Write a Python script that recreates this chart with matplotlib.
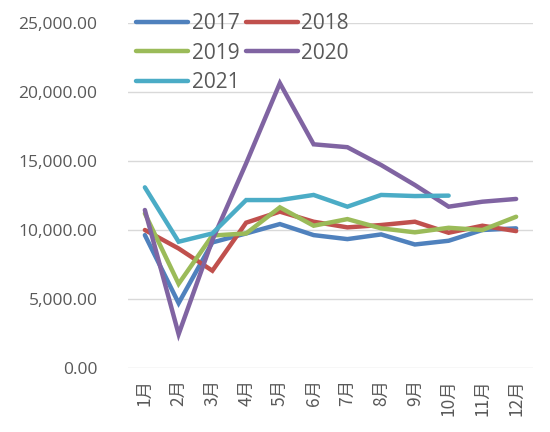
import matplotlib
matplotlib.use("Agg")
import matplotlib.pyplot as plt
from matplotlib.ticker import FuncFormatter

plt.rcParams["font.family"] = ["Open Sans", "Noto Sans CJK SC", "DejaVu Sans"]

months = ["1月", "2月", "3月", "4月", "5月", "6月", "7月", "8月", "9月", "10月", "11月", "12月"]

v2017 = [9630, 4700, 9100, 9750, 10430, 9630, 9340, 9680, 8950, 9220, 10000, 10120]
v2018 = [10000, 8660, 7050, 10530, 11330, 10600, 10190, 10360, 10600, 9800, 10310, 9920]
v2019 = [11200, 6100, 9600, 9750, 11640, 10310, 10790, 10120, 9830, 10160, 10000, 10960]
v2020 = [11450, 2450, 9270, 14830, 20640, 16210, 16000, 14710, 13260, 11690, 12050, 12250]
v2021 = [13090, 9150, 9750, 12170, 12170, 12540, 11690, 12540, 12460, 12490]

series = [
    ("2017", v2017, "#4F81BD"),
    ("2018", v2018, "#C0504D"),
    ("2019", v2019, "#9BBB59"),
    ("2020", v2020, "#8064A2"),
    ("2021", v2021, "#4BACC6"),
]

TEXT = "#595959"
GRID = "#D9D9D9"

fig = plt.figure(figsize=(5.5, 4.32), dpi=100)
ax = fig.add_axes([128 / 550, 64 / 432, 405 / 550, 345 / 432])

x = list(range(len(months)))
handles = {}
for name, vals, color in series:
    line, = ax.plot(x[:len(vals)], vals, color=color, lw=3.2, label=name,
                    solid_capstyle="round", solid_joinstyle="miter")
    handles[name] = line

ax.set_xlim(-0.5, len(months) - 0.5)
ax.set_ylim(0, 25000)
ax.set_yticks(range(0, 25001, 5000))
ax.yaxis.set_major_formatter(FuncFormatter(lambda v, p: f"{v:,.2f}"))
ax.set_xticks(x)
ax.set_xticklabels(months, rotation=90, family=["Noto Sans CJK SC", "DejaVu Sans"])

ax.grid(axis="y", color=GRID, lw=1)
ax.set_axisbelow(True)
for s in ax.spines.values():
    s.set_visible(False)
ax.tick_params(axis="both", length=0, colors=TEXT, labelsize=12.5)
ax.tick_params(axis="y", pad=22)
ax.tick_params(axis="x", pad=8)

# row-wise order like the original: 2017 2018 / 2019 2020 / 2021
order = ["2017", "2019", "2021", "2018", "2020"]
leg = ax.legend([handles[k] for k in order], order, loc="upper left", ncol=2,
                frameon=False, fontsize=15, bbox_to_anchor=(0.0, 1.052),
                handlelength=2.5, handletextpad=0.15, columnspacing=0.3,
                labelspacing=0.4, borderaxespad=0.0)
for t in leg.get_texts():
    t.set_color(TEXT)

fig.savefig("out.png", dpi=100)
